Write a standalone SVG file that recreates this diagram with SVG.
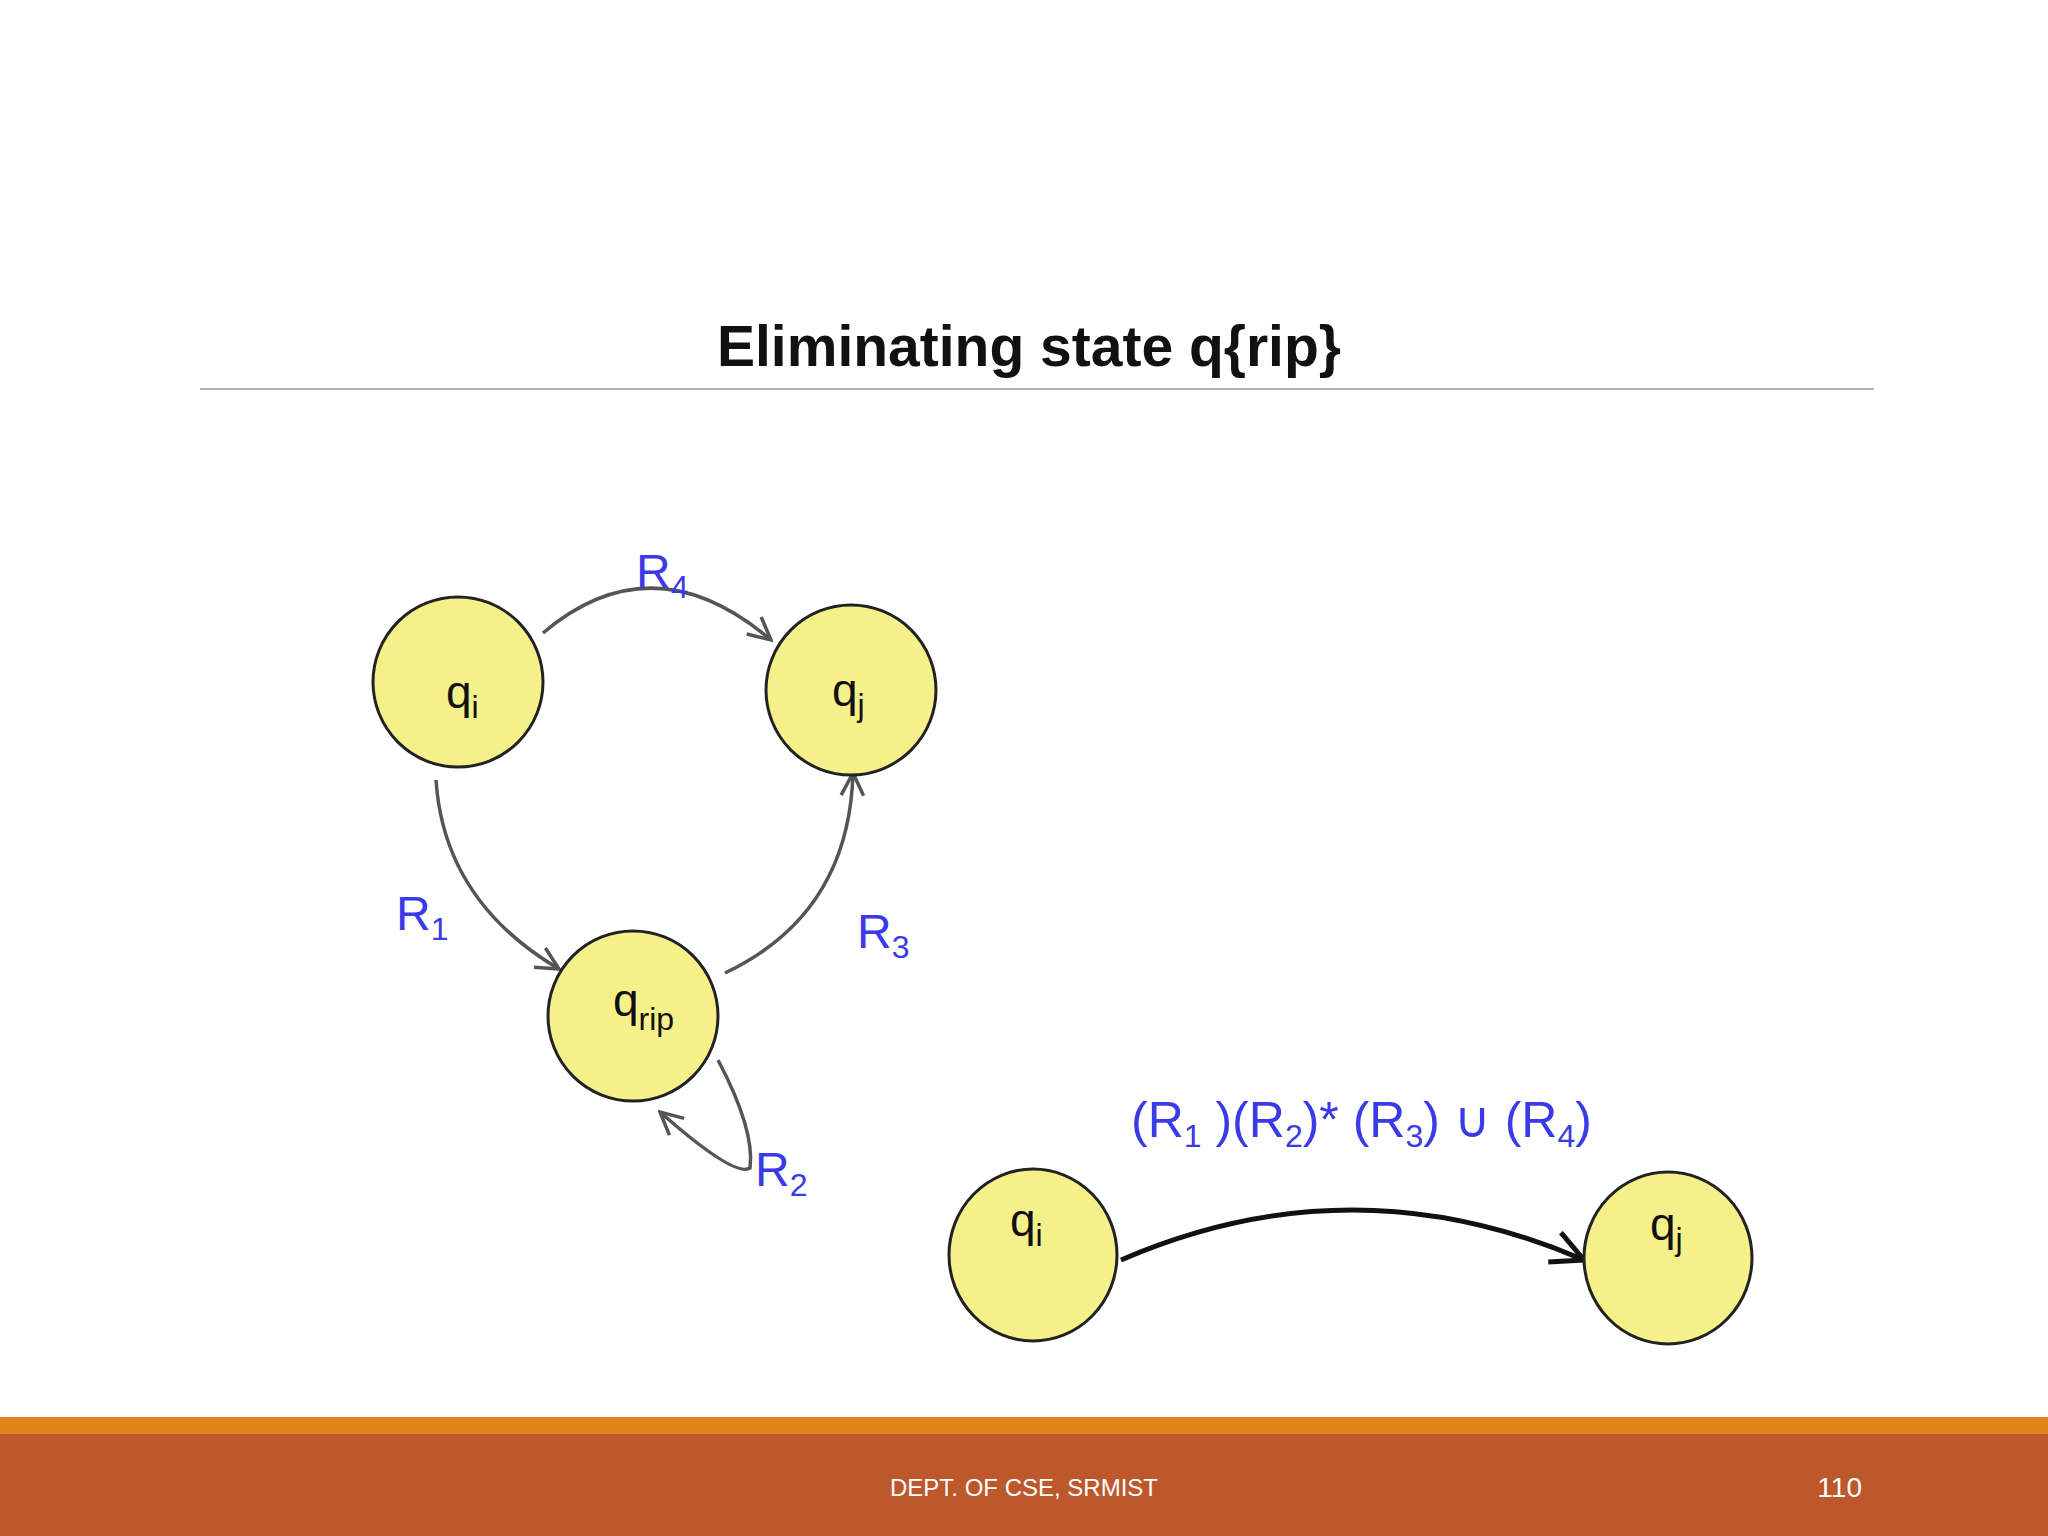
<svg xmlns="http://www.w3.org/2000/svg" width="2048" height="1536" viewBox="0 0 2048 1536">
<defs>
<style>
.st{fill:#f6f08a;stroke:#222;stroke-width:3}
.lb{font-family:"Liberation Sans",Arial,sans-serif;font-size:46px;fill:#111}
.rl{font-family:"Liberation Sans",Arial,sans-serif;font-size:48px;fill:#3a3ae6}
.fm{font-size:50px}
.sub{font-size:32px}
.e{fill:none;stroke:#555;stroke-width:3.5}
</style>
<marker id="ah" viewBox="0 0 20 20" refX="18" refY="10" markerWidth="8" markerHeight="8" orient="auto" markerUnits="strokeWidth">
<polyline points="2,2 18,10 2,18" fill="none" stroke="context-stroke" stroke-width="2.5"/>
</marker>
</defs>
<rect width="2048" height="1536" fill="#fff"/>
<text x="1029" y="366" text-anchor="middle" font-family="Liberation Sans,Arial,sans-serif" font-weight="bold" font-size="57" fill="#111">Eliminating state q{rip}</text>
<line x1="200" y1="389" x2="1874" y2="389" stroke="#999" stroke-width="1.5"/>
<g id="connectors">
<path class="e" d="M543,633 Q653,540 771,640" marker-end="url(#ah)"/>
<path class="e" d="M436,780 Q444,901 559,969" marker-end="url(#ah)"/>
<path class="e" d="M725,973 Q849,914 853,773" marker-end="url(#ah)"/>
<path class="e" d="M718,1060 Q755,1130 750,1168 Q735,1178 660,1112" marker-end="url(#ah)"/>
<path d="M1121,1260 Q1352,1160 1584,1260" fill="none" stroke="#111" stroke-width="5" marker-end="url(#ah)"/>
</g>
<g id="qi"><circle class="st" cx="458" cy="682" r="85"/><text class="lb" x="446" y="708">q<tspan class="sub" dy="10">i</tspan></text></g>
<g id="qj"><circle class="st" cx="851" cy="690" r="85"/><text class="lb" x="832" y="706">q<tspan class="sub" dy="10">j</tspan></text></g>
<g id="qrip"><circle class="st" cx="633" cy="1016" r="85"/><text class="lb" x="613" y="1016">q<tspan class="sub" dy="14">rip</tspan></text></g>
<g id="qi2"><ellipse class="st" cx="1033" cy="1255" rx="84" ry="86"/><text class="lb" x="1010" y="1236">q<tspan class="sub" dy="10">i</tspan></text></g>
<g id="qj2"><ellipse class="st" cx="1668" cy="1258" rx="84" ry="86"/><text class="lb" x="1650" y="1240">q<tspan class="sub" dy="10">j</tspan></text></g>
<g id="labels">
<text class="rl" x="636" y="588">R<tspan class="sub" dy="10">4</tspan></text>
<text class="rl" x="396" y="930">R<tspan class="sub" dy="10">1</tspan></text>
<text class="rl" x="857" y="948">R<tspan class="sub" dy="10">3</tspan></text>
<text class="rl" x="755" y="1186">R<tspan class="sub" dy="10">2</tspan></text>
<text class="rl fm" x="1131" y="1137">(R<tspan class="sub" dy="10">1</tspan><tspan dy="-10"> )(R</tspan><tspan class="sub" dy="10">2</tspan><tspan dy="-10">)* (R</tspan><tspan class="sub" dy="10">3</tspan><tspan dy="-10">) ∪ (R</tspan><tspan class="sub" dy="10">4</tspan><tspan dy="-10">)</tspan></text>
</g>
<rect x="0" y="1417" width="2048" height="17" fill="#e2831c"/>
<rect x="0" y="1434" width="2048" height="102" fill="#bd572c"/>
<text x="1024" y="1496" text-anchor="middle" font-family="Liberation Sans,Arial,sans-serif" font-size="24" fill="#fff">DEPT. OF CSE, SRMIST</text>
<text x="1862" y="1497" text-anchor="end" font-family="Liberation Sans,Arial,sans-serif" font-size="28" fill="#fff">110</text>
</svg>
